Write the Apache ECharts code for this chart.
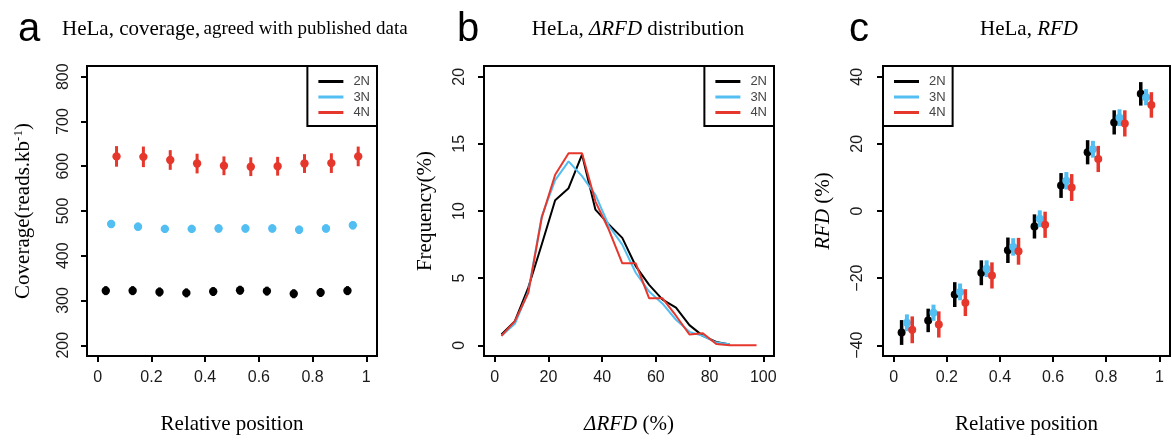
<!DOCTYPE html>
<html>
<head>
<meta charset="utf-8">
<script src="https://cdn.jsdelivr.net/npm/echarts@6.0.0/dist/echarts.min.js"></script>
<style>
html,body{margin:0;padding:0;background:#fff;}
#chart{width:1172px;height:440px;}
</style>
</head>
<body>
<div id="chart"></div>
<script>
// ---------- DATA ----------
const seriesNames = ['2N', '3N', '4N'];

// Panel a: coverage
const posA2N = [0.03, 0.13, 0.23, 0.33, 0.43, 0.53, 0.63, 0.73, 0.83, 0.93];
const posA3N = [0.05, 0.15, 0.25, 0.35, 0.45, 0.55, 0.65, 0.75, 0.85, 0.95];
const posA4N = [0.07, 0.17, 0.27, 0.37, 0.47, 0.57, 0.67, 0.77, 0.87, 0.97];
const cov2N = [322, 322, 319, 317, 320, 323, 321, 315, 318, 322];
const cov3N = [471, 465, 460, 460, 461, 461, 461, 458, 461, 468];
const cov4N = [622, 621, 614, 606, 601, 599, 600, 606, 607, 622];
const covErr2N = [10, 10, 10, 10, 10, 10, 10, 10, 10, 10];
const covErr3N = [9, 9, 9, 9, 9, 9, 9, 9, 9, 9];
const covErr4N = [23, 23, 22, 22, 21, 21, 21, 21, 22, 22];
const covTicksX = [0, 0.2, 0.4, 0.6, 0.8, 1];
const covTicksY = [200, 300, 400, 500, 600, 700, 800];

// Panel b: dRFD distribution
const binMid = [2.5, 7.5, 12.5, 17.5, 22.5, 27.5, 32.5, 37.5, 42.5, 47.5, 52.5, 57.5, 62.5, 67.5, 72.5, 77.5, 82.5, 87.5, 92.5, 97.5];
const freq2N = [0.8, 1.8, 4.3, 7.5, 10.8, 11.7, 14.2, 10.1, 9.0, 8.0, 5.9, 4.5, 3.4, 2.8, 1.5, 0.7, 0.25, 0.05];
const freq3N = [0.7, 1.6, 4.0, 9.6, 12.3, 13.7, 12.6, 11.2, 8.9, 7.5, 5.4, 4.0, 3.1, 1.9, 1.0, 0.7, 0.2, 0.07];
const freq4N = [0.7, 1.8, 3.9, 9.5, 12.7, 14.3, 14.3, 10.7, 8.6, 6.1, 6.1, 3.5, 3.5, 2.2, 0.8, 0.9, 0.1, 0.0, 0.0, 0.0];
const freqTicksX = [0, 20, 40, 60, 80, 100];
const freqTicksY = [0, 5, 10, 15, 20];

// Panel c: RFD
const rfd2N = [-36.2, -32.6, -24.9, -18.4, -11.7, -4.6, 7.6, 17.5, 26.4, 34.9];
const rfd3N = [-33.3, -30.3, -24.1, -17.2, -10.7, -2.3, 9.0, 18.4, 27.8, 33.9];
const rfd4N = [-35.4, -33.8, -27.3, -19.2, -12.0, -4.1, 7.0, 15.5, 26.1, 31.6];
const rfdErr2N = [3.7, 3.5, 3.7, 3.7, 3.8, 3.6, 3.7, 3.6, 3.6, 3.5];
const rfdErr3N = [2.5, 2.4, 2.5, 2.5, 2.6, 2.5, 2.6, 2.5, 2.5, 2.4];
const rfdErr4N = [4.0, 3.9, 4.0, 3.9, 4.0, 3.9, 4.0, 3.9, 3.9, 3.8];
const rfdTicksX = [0, 0.2, 0.4, 0.6, 0.8, 1];
const rfdTicksY = [-40, -20, 0, 20, 40];

// ---------- STYLE ----------
const colors = {'2N': '#000000', '3N': '#52BEF2', '4N': '#E6372D'};
const SERIF = '"Liberation Serif", "Times New Roman", serif';
const SANS = '"Liberation Sans", Arial, Helvetica, sans-serif';

const chart = echarts.init(document.getElementById('chart'), null, {renderer: 'canvas'});

function zip3(xs, ys, es) { return xs.map((x, i) => [x, ys[i], es[i]]); }
function zip2(xs, ys) { return ys.map((y, i) => [xs[i], y]); }

function errRender(color, r, w) {
  return function (params, api) {
    const x = api.value(0), y = api.value(1), e = api.value(2);
    const p = api.coord([x, y]);
    const t = api.coord([x, y + e]);
    const b = api.coord([x, y - e]);
    return {
      type: 'group',
      children: [
        {type: 'line', shape: {x1: p[0], y1: t[1], x2: p[0], y2: b[1]}, style: {stroke: color, lineWidth: w}},
        {type: 'circle', shape: {cx: p[0], cy: p[1], r: r}, style: {fill: color}}
      ]
    };
  };
}

function fmtNum(v) {
  const n = Math.round(v * 1000) / 1000;
  const s = String(n);
  return n < 0 ? '\u2212' + s.slice(1) : s;
}

const tickStyle = {show: true, inside: false, length: 6, lineStyle: {color: '#000', width: 2}};
const labelBase = {color: '#1a1a1a', fontFamily: SANS, fontSize: 16};

function xAxisDef(grid, min, max, ticks, name) {
  return {
    type: 'value', gridIndex: grid, min: min, max: max,
    axisLine: {show: false, onZero: false},
    splitLine: {show: false},
    axisTick: Object.assign({customValues: ticks}, tickStyle),
    axisLabel: Object.assign({customValues: ticks, margin: 14, formatter: fmtNum}, labelBase),
    name: name, nameLocation: 'middle', nameGap: 58,
    nameTextStyle: {fontFamily: SERIF, fontSize: 21, color: '#000',
      rich: {i: {fontFamily: SERIF, fontSize: 21, fontStyle: 'italic', color: '#000'},
             n: {fontFamily: SERIF, fontSize: 21, color: '#000'}}}
  };
}
function yAxisDef(grid, min, max, ticks, name, gap, margin) {
  return {
    type: 'value', gridIndex: grid, min: min, max: max,
    axisLine: {show: false, onZero: false},
    splitLine: {show: false},
    axisTick: Object.assign({customValues: ticks}, tickStyle),
    axisLabel: Object.assign({customValues: ticks, margin: margin, rotate: 90, formatter: fmtNum}, labelBase),
    name: name, nameLocation: 'middle', nameGap: gap, nameRotate: 90,
    nameTextStyle: {fontFamily: SERIF, fontSize: 21, color: '#000',
      rich: {i: {fontFamily: SERIF, fontSize: 21, fontStyle: 'italic', color: '#000'},
             n: {fontFamily: SERIF, fontSize: 21, color: '#000'},
             sup: {fontFamily: SERIF, fontSize: 13, color: '#000', padding: [0, 0, 9, 0]}}}
  };
}

function legendDef(pos) {
  return Object.assign({
    orient: 'vertical',
    data: seriesNames.map(n => ({name: n, icon: 'rect', itemStyle: {color: colors[n]}})),
    itemWidth: 25, itemHeight: 3, itemGap: 2.5,
    padding: [9, 7, 7, 11],
    borderColor: '#000', borderWidth: 2, borderRadius: 0,
    backgroundColor: '#fff',
    selectedMode: false,
    textStyle: {fontFamily: SANS, fontSize: 13, color: '#444', padding: [0, 0, 0, 5], lineHeight: 13}
  }, pos);
}

const gridBase = {show: true, borderColor: '#000', borderWidth: 2, backgroundColor: 'transparent', containLabel: false};

const option = {
  animation: false,
  backgroundColor: '#fff',
  grid: [
    Object.assign({left: 87, top: 66, width: 290, height: 290}, gridBase),
    Object.assign({left: 484, top: 66, width: 290, height: 290}, gridBase),
    Object.assign({left: 883, top: 66, width: 287, height: 290}, gridBase)
  ],
  xAxis: [
    xAxisDef(0, -0.04, 1.04, covTicksX, 'Relative position'),
    xAxisDef(1, -4, 104, freqTicksX, '{i|\u0394RFD}{n| (%)}'),
    xAxisDef(2, -0.04, 1.04, rfdTicksX, 'Relative position')
  ],
  yAxis: [
    yAxisDef(0, 176, 824, covTicksY, '{n|Coverage(reads.kb}{sup|-1}{n|)}', 53, 15.5),
    yAxisDef(1, -0.8, 20.8, freqTicksY, 'Frequency(%)', 48, 16),
    yAxisDef(2, -43.2, 43.2, rfdTicksY, '{i|RFD}{n| (%)}', 49, 17)
  ],
  legend: [
    legendDef({right: 1172 - 377, top: 66}),
    legendDef({right: 1172 - 774, top: 66}),
    legendDef({left: 883, top: 66})
  ],
  graphic: [
    {type: 'text', x: 18, y: 30, style: {text: 'a', font: '40px ' + SANS, fill: '#000', verticalAlign: 'middle'}},
    {type: 'text', x: 457, y: 30, style: {text: 'b', font: '40px ' + SANS, fill: '#000', verticalAlign: 'middle'}},
    {type: 'text', x: 849, y: 30, style: {text: 'c', font: '40px ' + SANS, fill: '#000', verticalAlign: 'middle'}},
    {type: 'text', x: 62, y: 29, style: {
      text: '{m|HeLa, coverage,} {s|agreed with published data}', verticalAlign: 'middle',
      rich: {m: {font: '21px ' + SERIF, fill: '#000'}, s: {font: '19px ' + SERIF, fill: '#000'}}}},
    {type: 'text', x: 638, y: 29, style: {
      text: '{m|HeLa, }{i|\u0394RFD}{m| distribution}', align: 'center', verticalAlign: 'middle',
      rich: {m: {font: '21px ' + SERIF, fill: '#000'}, i: {font: 'italic 21px ' + SERIF, fill: '#000'}}}},
    {type: 'text', x: 1029, y: 29, style: {
      text: '{m|HeLa, }{i|RFD}', align: 'center', verticalAlign: 'middle',
      rich: {m: {font: '21px ' + SERIF, fill: '#000'}, i: {font: 'italic 21px ' + SERIF, fill: '#000'}}}}
  ],
  series: [
    // Panel a
    {name: '2N', type: 'custom', xAxisIndex: 0, yAxisIndex: 0, data: zip3(posA2N, cov2N, covErr2N), renderItem: errRender(colors['2N'], 4.2, 3), encode: {x: 0, y: 1}, itemStyle: {color: colors['2N']}},
    {name: '3N', type: 'custom', xAxisIndex: 0, yAxisIndex: 0, data: zip3(posA3N, cov3N, covErr3N), renderItem: errRender(colors['3N'], 4.2, 3), encode: {x: 0, y: 1}, itemStyle: {color: colors['3N']}},
    {name: '4N', type: 'custom', xAxisIndex: 0, yAxisIndex: 0, data: zip3(posA4N, cov4N, covErr4N), renderItem: errRender(colors['4N'], 4.2, 3), encode: {x: 0, y: 1}, itemStyle: {color: colors['4N']}},
    // Panel b
    {name: '2N', type: 'line', xAxisIndex: 1, yAxisIndex: 1, data: zip2(binMid, freq2N), symbol: 'none', lineStyle: {color: colors['2N'], width: 2}, itemStyle: {color: colors['2N']}},
    {name: '3N', type: 'line', xAxisIndex: 1, yAxisIndex: 1, data: zip2(binMid, freq3N), symbol: 'none', lineStyle: {color: colors['3N'], width: 2}, itemStyle: {color: colors['3N']}},
    {name: '4N', type: 'line', xAxisIndex: 1, yAxisIndex: 1, data: zip2(binMid, freq4N), symbol: 'none', lineStyle: {color: colors['4N'], width: 2}, itemStyle: {color: colors['4N']}},
    // Panel c
    {name: '2N', type: 'custom', xAxisIndex: 2, yAxisIndex: 2, data: zip3(posA2N, rfd2N, rfdErr2N), renderItem: errRender(colors['2N'], 4, 3.5), encode: {x: 0, y: 1}, itemStyle: {color: colors['2N']}},
    {name: '3N', type: 'custom', xAxisIndex: 2, yAxisIndex: 2, data: zip3(posA3N, rfd3N, rfdErr3N), renderItem: errRender(colors['3N'], 4, 4), encode: {x: 0, y: 1}, itemStyle: {color: colors['3N']}},
    {name: '4N', type: 'custom', xAxisIndex: 2, yAxisIndex: 2, data: zip3(posA4N, rfd4N, rfdErr4N), renderItem: errRender(colors['4N'], 4, 3.5), encode: {x: 0, y: 1}, itemStyle: {color: colors['4N']}}
  ]
};
chart.setOption(option);
</script>
</body>
</html>
